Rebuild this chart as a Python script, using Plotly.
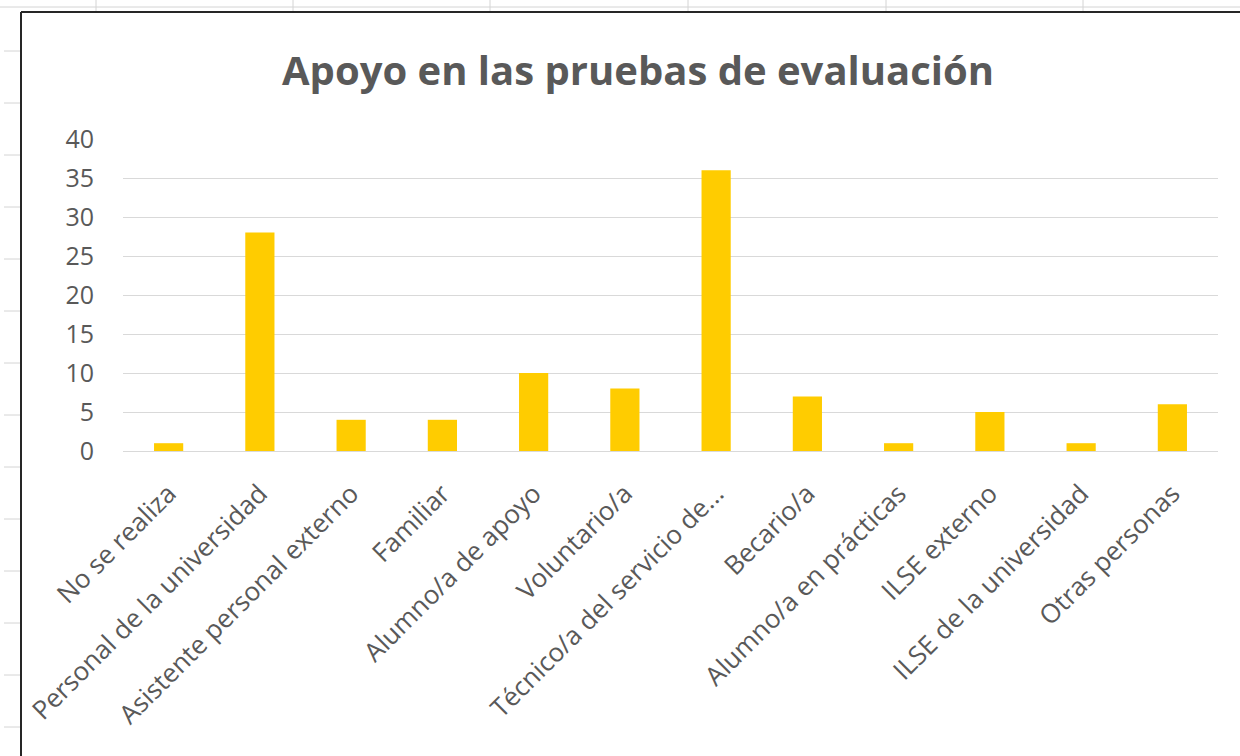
import plotly.graph_objects as go

categories = [
    "No se realiza",
    "Personal de la universidad",
    "Asistente personal externo",
    "Familiar",
    "Alumno/a de apoyo",
    "Voluntario/a",
    "Técnico/a del servicio de...",
    "Becario/a",
    "Alumno/a en prácticas",
    "ILSE externo",
    "ILSE de la universidad",
    "Otras personas",
]
values = [1, 28, 4, 4, 10, 8, 36, 7, 1, 5, 1, 6]
y_ticks = [0, 5, 10, 15, 20, 25, 30, 35, 40]
title_text = "Apoyo en las pruebas de evaluación"

W, H = 1240, 756
L, R, T, B = 123, 22, 139, 305
pw, ph = W - L - R, H - T - B

def px(x):
    return (x - L) / pw

def py(y):
    return (H - B - y) / ph

GRAY = "#595959"
FONT = "Open Sans"

fig = go.Figure(go.Bar(
    x=categories, y=values,
    marker=dict(color="#FFCC00", line=dict(width=0)),
))

shapes = []
sheet_line = dict(color="#D4D4D4", width=1)
# spreadsheet row lines to the left of the chart
for ry in [51, 103, 155, 207, 259, 311, 363, 415, 467, 519, 571, 623, 675, 727]:
    shapes.append(dict(type="line", xref="paper", yref="paper",
                       x0=px(4), x1=px(21), y0=py(ry), y1=py(ry), line=sheet_line))
# spreadsheet column lines above the chart
for cx in [96, 293, 490, 688, 886, 1083]:
    shapes.append(dict(type="line", xref="paper", yref="paper",
                       x0=px(cx), x1=px(cx), y0=py(0), y1=py(12), line=sheet_line))
shapes.append(dict(type="line", xref="paper", yref="paper",
                   x0=px(0), x1=px(W), y0=py(7), y1=py(7), line=sheet_line))
# chart area border (top and left edges only visible)
border = dict(color="#262626", width=2)
shapes.append(dict(type="line", xref="paper", yref="paper",
                   x0=px(21), x1=px(W + 5), y0=py(12), y1=py(12), line=border))
shapes.append(dict(type="line", xref="paper", yref="paper",
                   x0=px(21), x1=px(21), y0=py(12), y1=py(H + 5), line=border))

fig.update_layout(
    width=W, height=H,
    margin=dict(l=L, r=R, t=T, b=B),
    paper_bgcolor="white", plot_bgcolor="white",
    bargap=0.68,
    showlegend=False,
    shapes=shapes,
    title=dict(text=title_text, x=638 / W, xanchor="center", xref="container",
               y=1 - 71 / H, yanchor="middle", yref="container",
               font=dict(family=FONT, size=40, color=GRAY, weight="bold")),
    font=dict(family=FONT, color=GRAY),
)
fig.update_xaxes(
    tickangle=-45, tickfont=dict(size=26, color=GRAY, family=FONT),
    showgrid=False, showline=True, linecolor="#D9D9D9", linewidth=1,
    ticks="", automargin=False, ticklabelstandoff=16,
)
fig.update_yaxes(
    range=[0, 40], tickvals=y_ticks, tickfont=dict(size=25, color=GRAY, family=FONT),
    showgrid=True, gridcolor="#D9D9D9", gridwidth=1, zeroline=False,
    showline=False, ticks="", ticklabelstandoff=28, automargin=False,
)

fig.write_html(
    "out.html",
    config={"displayModeBar": False},
    post_script=(
        "document.body.style.margin='0';"
        "document.body.style.overflow='hidden';"
        "document.documentElement.style.overflow='hidden';"
    ),
)
